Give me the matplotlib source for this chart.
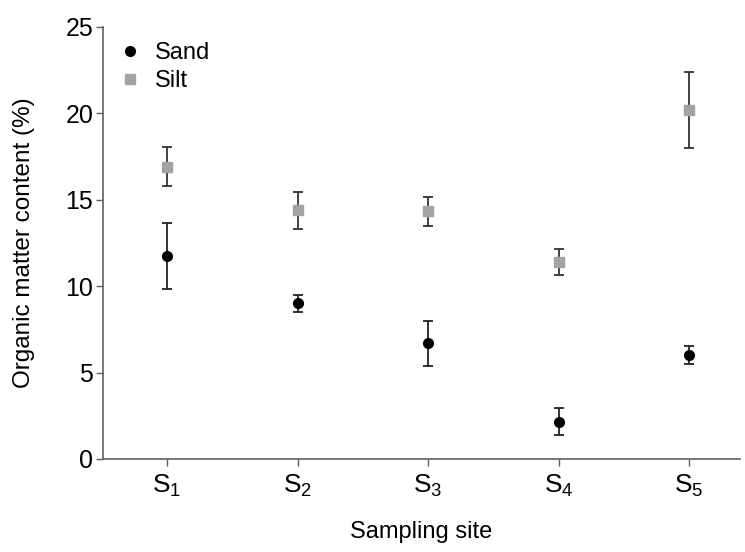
import matplotlib
matplotlib.use("Agg")
import matplotlib.pyplot as plt

plt.rcParams['font.family'] = ['Liberation Sans', 'DejaVu Sans']
plt.rcParams['mathtext.fontset'] = 'custom'
plt.rcParams['mathtext.rm'] = 'Liberation Sans'
plt.rcParams['mathtext.it'] = 'Liberation Sans'

sites = ['S$_1$', 'S$_2$', 'S$_3$', 'S$_4$', 'S$_5$']
sand_mean = [11.75, 9.0, 6.7, 2.15, 6.0]
sand_err = [1.9, 0.5, 1.3, 0.78, 0.52]
silt_mean = [16.9, 14.4, 14.35, 11.4, 20.2]
silt_err = [1.13, 1.07, 0.84, 0.75, 2.2]

x = list(range(1, len(sites) + 1))

fig = plt.figure(figsize=(7.45, 5.52), dpi=100)
ax = fig.add_axes([0.1383, 0.1685, 0.855, 0.7826])

axis_col = '#606060'
ax.errorbar(x, silt_mean, yerr=silt_err, fmt='none', ecolor='#333333',
            elinewidth=1.3, capsize=3.3, capthick=1.3, zorder=2)
ax.errorbar(x, sand_mean, yerr=sand_err, fmt='none', ecolor='#222222',
            elinewidth=1.3, capsize=3.3, capthick=1.3, zorder=2)
ax.plot(x, sand_mean, 'o', color='black', markersize=7, linestyle='none',
        label='Sand', zorder=3)
ax.plot(x, silt_mean, 's', color='#a3a3a6', markersize=6.5, linestyle='none',
        label='Silt', zorder=3)

ax.set_xlim(0.51, 5.39)
ax.set_ylim(0, 25)
ax.set_xticks(x)
ax.set_xticklabels(sites, fontsize=19)
ax.set_yticks([0, 5, 10, 15, 20, 25])
ax.tick_params(axis='y', labelsize=18, length=5, width=1, color=axis_col, pad=2)
ax.tick_params(axis='x', length=5, width=1, color=axis_col, pad=5)

for s in ['top', 'right']:
    ax.spines[s].set_visible(False)
for s in ['left', 'bottom']:
    ax.spines[s].set_color(axis_col)
    ax.spines[s].set_linewidth(1.2)

ax.set_xlabel('Sampling site', fontsize=17, labelpad=16)
ax.set_ylabel('Organic matter content (%)', fontsize=17.5, labelpad=22)

ax.legend(loc='upper left', bbox_to_anchor=(0.0, 1.0), frameon=False,
          fontsize=17, handletextpad=0.55, handlelength=1.0,
          labelspacing=0.25, borderaxespad=0.25)

fig.savefig('out.png', dpi=100)
